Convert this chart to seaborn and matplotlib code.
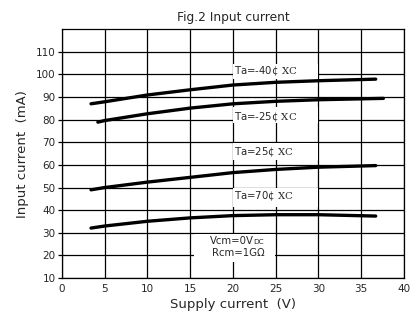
import matplotlib
matplotlib.use("Agg")
import matplotlib.pyplot as plt
from matplotlib.patches import Rectangle
import seaborn as sns
import pandas as pd

# ---- data ----
x_m40 = [3.4, 5, 10, 15, 20, 25, 30, 36.7]
y_m40 = [87.0, 87.9, 90.9, 93.2, 95.3, 96.5, 97.2, 97.9]
x_m25 = [4.2, 5, 10, 15, 20, 25, 30, 37.6]
y_m25 = [78.9, 79.6, 82.6, 85.1, 87.0, 88.1, 88.8, 89.4]
x_p25 = [3.4, 5, 10, 15, 20, 25, 30, 36.7]
y_p25 = [49.0, 50.0, 52.4, 54.5, 56.6, 58.0, 59.0, 59.7]
x_p70 = [3.4, 5, 10, 15, 20, 25, 30, 36.7]
y_p70 = [32.1, 33.0, 35.1, 36.6, 37.6, 38.0, 38.0, 37.4]
series_names = ["Ta=-40\u00a2", "Ta=-25\u00a2", "Ta=25\u00a2", "Ta=70\u00a2"]
label_suffix = r" $\mathrm{XC}$"
x_ticks = [0, 5, 10, 15, 20, 25, 30, 35, 40]
y_ticks = [10, 20, 30, 40, 50, 60, 70, 80, 90, 100, 110]
note_lines = ["Vcm=0V", "DC", "Rcm=1G\u03a9"]

sns.set_style("white")
plt.rcParams['font.family'] = ['DejaVu Sans']
plt.rcParams['mathtext.fontset'] = 'dejavuserif'

frames = []
for name, xs, ys in zip(series_names, [x_m40, x_m25, x_p25, x_p70],
                        [y_m40, y_m25, y_p25, y_p70]):
    frames.append(pd.DataFrame({"x": xs, "y": ys, "s": name}))
df = pd.concat(frames, ignore_index=True)

fig = plt.figure(figsize=(4.13, 3.2), dpi=100)
ax = fig.add_axes([0.150, 0.131, 0.828, 0.778])

sns.lineplot(data=df, x="x", y="y", hue="s", palette=["black"] * 4,
             linewidth=2.4, legend=False, ax=ax, zorder=5, sort=False)

ax.set_xlim(0, 40)
ax.set_ylim(10, 120)
ax.set_xticks(x_ticks)
ax.set_yticks(y_ticks)
ax.grid(True, color="black", linewidth=0.9)
ax.set_axisbelow(True)
for sp in ax.spines.values():
    sp.set_color("black")
    sp.set_linewidth(0.9)
ax.tick_params(axis="y", which="both", left=True, length=3, width=0.9,
               labelsize=7.5, pad=1.5, color="black")
ax.tick_params(axis="x", which="both", bottom=False, length=0,
               labelsize=7.5, pad=4)

ax.set_title("Fig.2 Input current", fontsize=8.8, pad=6)
ax.set_xlabel("Supply current  (V)", fontsize=9.5, labelpad=3)
ax.set_ylabel("Input current  (mA)", fontsize=9.5, labelpad=5)

# white label boxes (cover the grid like the reference)
boxes = [(20.0, 97.9, 10.0, 6.6), (20.0, 78.6, 10.0, 7.2),
         (20.0, 62.2, 10.0, 7.5), (20.0, 41.4, 10.0, 8.4)]
label_base = [99.9, 79.7, 64.3, 44.7]
for name, (bx, by, bw, bh), ly in zip(series_names, boxes, label_base):
    ax.add_patch(Rectangle((bx, by), bw, bh, facecolor="white",
                           edgecolor="none", zorder=3))
    ax.text(20.15, ly, name + label_suffix, fontsize=7.3, ha="left",
            va="baseline", zorder=6)

# Vcm / Rcm note box
ax.add_patch(Rectangle((15.4, 17.0), 9.5, 12.4, facecolor="white",
                       edgecolor="none", zorder=3))
t1 = ax.text(17.3, 25.2, note_lines[0], fontsize=7.3, ha="left",
             va="baseline", zorder=6)
ax.annotate(note_lines[1], xy=(1.0, 25.2), xycoords=(t1, "data"),
            fontsize=5.3, ha="left", va="baseline", zorder=6)
ax.text(20.6, 21.0, note_lines[2], fontsize=7.3, ha="center", va="center",
        zorder=6)

fig.savefig("out.png", dpi=100)
